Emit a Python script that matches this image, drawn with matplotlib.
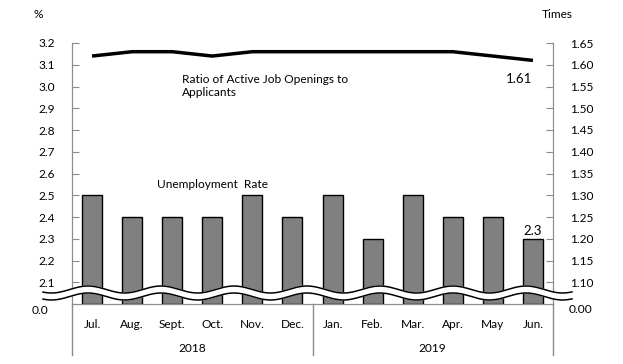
import numpy as np
import matplotlib
matplotlib.use("Agg")
import matplotlib.pyplot as plt
from matplotlib.lines import Line2D

months = ["Jul.", "Aug.", "Sept.", "Oct.", "Nov.", "Dec.",
          "Jan.", "Feb.", "Mar.", "Apr.", "May", "Jun."]
years = ["2018", "2019"]
unemp = [2.5, 2.4, 2.4, 2.4, 2.5, 2.4, 2.5, 2.3, 2.5, 2.4, 2.4, 2.3]
ratio = [1.62, 1.63, 1.63, 1.62, 1.63, 1.63, 1.63, 1.63, 1.63, 1.63, 1.62, 1.61]
left_ticks = [2.1, 2.2, 2.3, 2.4, 2.5, 2.6, 2.7, 2.8, 2.9, 3.0, 3.1, 3.2]
right_ticks = [1.10, 1.15, 1.20, 1.25, 1.30, 1.35, 1.40, 1.45, 1.50, 1.55, 1.60, 1.65]

plt.rcParams["font.family"] = ["Lato", "DejaVu Sans"]
plt.rcParams["font.size"] = 8.6
GRAY = "#8c8c8c"

W, H = 623, 364
fig = plt.figure(figsize=(W / 100, H / 100), dpi=100)
ax = fig.add_axes([72 / W, 1 - 304 / H, (553 - 72) / W, (304 - 43) / H])
ax2 = ax.twinx()

x = np.arange(len(months))
ax.bar(x, [u - 2.0 for u in unemp], bottom=2.0, width=0.5, color="#808080",
       edgecolor="black", linewidth=1.0, zorder=2)
ax.set_xlim(-0.5, 11.5)
ax.set_ylim(2.0, 3.2)
ax.set_yticks(left_ticks)
ax.set_yticklabels([f"{v:.1f}" for v in left_ticks])
ax.set_xticks(x)
ax.set_xticklabels(months)
ax.tick_params(axis="x", length=0, pad=11)
ax.tick_params(axis="y", direction="in", length=5, color=GRAY, pad=12)

ax2.plot(x, ratio, color="black", lw=2.5, solid_capstyle="butt", zorder=3)
ax2.set_ylim(1.05, 1.65)
ax2.set_yticks(right_ticks)
ax2.set_yticklabels([f"{v:.2f}" for v in right_ticks])
ax2.tick_params(axis="y", direction="in", length=5, color=GRAY, pad=12)

for a in (ax, ax2):
    a.spines["top"].set_visible(False)
    for s in ("left", "right", "bottom"):
        a.spines[s].set_color(GRAY)

ax.text(-0.05, 1.97, "0.0", transform=ax.get_yaxis_transform(), ha="right", va="center")
ax.text(1.032, 1.975, "0.00", transform=ax.get_yaxis_transform(), ha="left", va="center")

# year separators and labels
xt = ax.get_xaxis_transform()
for xs in (-0.5, 5.5, 11.5):
    ax.add_artist(Line2D([xs, xs], [0, -0.195], transform=xt, color=GRAY, lw=1, clip_on=False))
ax.text(2.5, -0.169, years[0], transform=xt, ha="center", va="center")
ax.text(8.5, -0.169, years[1], transform=xt, ha="center", va="center")

# axis break wave
px = np.linspace(43, 572, 600)
wave = 3.5 * np.cos(2 * np.pi * (px - 88) / 73)
up = 289.5 - wave
lo = 296.5 - wave
fx = px / W
fig.patches.append(plt.Polygon(np.column_stack([np.r_[fx, fx[::-1]],
                                                np.r_[1 - up / H, (1 - lo / H)[::-1]]]),
                               closed=True, transform=fig.transFigure, color="white", zorder=5))
for yy in (up, lo):
    fig.add_artist(Line2D(fx, 1 - yy / H, transform=fig.transFigure, color="black", lw=1.1, zorder=6))

# labels
fig.text(38 / W, 1 - 14 / H, "%", ha="center", va="center")
fig.text(557 / W, 1 - 14 / H, "Times", ha="center", va="center")
fig.text(182 / W, 1 - 86 / H, "Ratio of Active Job Openings to\nApplicants", ha="left", va="center",
         linespacing=1.3)
fig.text(532 / W, 1 - 79 / H, "1.61", ha="right", va="center", fontsize=9.5)
fig.text(157 / W, 1 - 184 / H, "Unemployment  Rate", ha="left", va="center")
fig.text(533 / W, 1 - 231 / H, "2.3", ha="center", va="center", fontsize=9.5)

fig.savefig("out.png", dpi=100)
